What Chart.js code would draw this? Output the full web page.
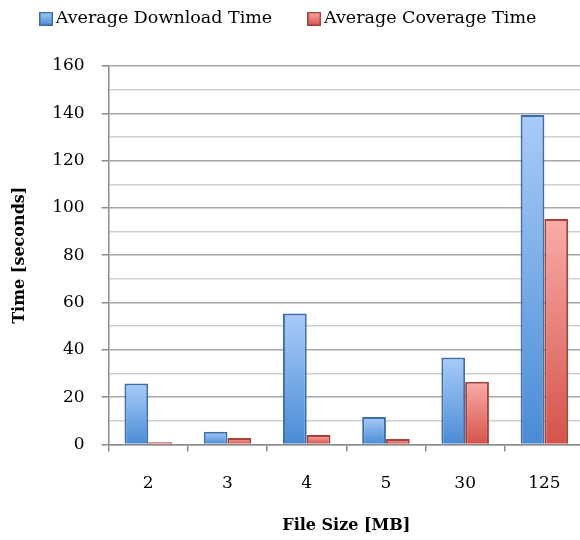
<!DOCTYPE html>
<html>
<head>
<meta charset="utf-8">
<script src="https://cdn.jsdelivr.net/npm/chart.js@4"></script>
<style>
  html, body { margin: 0; padding: 0; background: #ffffff; overflow: hidden; }
  #wrap { width: 584px; height: 540px; }
</style>
</head>
<body>
<div id="wrap"><canvas id="timeChart" width="584" height="540"></canvas></div>
<script>
// File sizes (MB) and measured times (seconds)
const fileSizes = ['2', '3', '4', '5', '30', '125'];
const downloadTimes = [25.7, 5.4, 55.3, 11.6, 36.7, 139.3];
const coverageTimes = [0.9, 2.7, 4.0, 2.3, 26.5, 95.3];

const FONT = "'DejaVu Serif', serif";

// vertical gradient from bar top down to the zero line
function barGradient(top, bottom) {
  return (ctx) => {
    const chart = ctx.chart;
    const area = chart.chartArea;
    if (!area) return bottom;
    const yScale = chart.scales.y;
    const value = ctx.parsed ? ctx.parsed.y : null;
    const y0 = yScale.getPixelForValue(0);
    const y1 = value == null ? area.top : yScale.getPixelForValue(value);
    if (y0 - y1 < 1) return bottom;
    const g = chart.ctx.createLinearGradient(0, y1, 0, y0);
    g.addColorStop(0, top);
    g.addColorStop(1, bottom);
    return g;
  };
}

// legend swatches get a small gradient of their own
function swatch(top, bottom, border) {
  const c = document.createElement('canvas');
  c.width = 14; c.height = 14;
  const x = c.getContext('2d');
  const g = x.createLinearGradient(0, 0, 0, 14);
  g.addColorStop(0, top);
  g.addColorStop(1, bottom);
  x.fillStyle = g;
  x.fillRect(0, 0, 14, 14);
  x.strokeStyle = border;
  x.lineWidth = 1.5;
  x.strokeRect(0.75, 0.75, 12.5, 12.5);
  return c;
}

const blueSwatch = swatch('#a9ccf8', '#4a8bd6', '#3d6ea6');
const redSwatch = swatch('#f9aca8', '#d4534a', '#a8403b');

// leave some room between the legend and the plot
const legendSpacer = {
  id: 'legendSpacer',
  beforeInit(chart) {
    const fit = chart.legend.fit;
    chart.legend.fit = function () {
      fit.call(this);
      this.height += 28.5;
    };
  }
};

new Chart(document.getElementById('timeChart'), {
  type: 'bar',
  data: {
    labels: fileSizes,
    datasets: [
      {
        label: 'Average Download Time',
        data: downloadTimes,
        backgroundColor: barGradient('#a9ccf8', '#4a8bd6'),
        borderColor: '#3d6ea6',
        borderWidth: 2,
        borderSkipped: 'bottom',
        categoryPercentage: 0.6,
        barPercentage: 1.0
      },
      {
        label: 'Average Coverage Time',
        data: coverageTimes,
        backgroundColor: barGradient('#f9aca8', '#d4534a'),
        borderColor: '#a8403b',
        borderWidth: 2,
        borderSkipped: 'bottom',
        categoryPercentage: 0.6,
        barPercentage: 1.0
      }
    ]
  },
  plugins: [legendSpacer],
  options: {
    responsive: false,
    animation: false,
    layout: { padding: { top: -31, left: 4, right: 0, bottom: 5 } },
    plugins: {
      tooltip: { enabled: false },
      legend: {
        position: 'top',
        align: 'start',
        labels: {
          color: '#000000',
          font: { family: FONT, size: 17.5 },
          usePointStyle: true,
          pointStyleWidth: 2,
          padding: 41,
          generateLabels: () => [
            { text: 'Average Download Time', pointStyle: blueSwatch, datasetIndex: 0, fontColor: '#000' },
            { text: 'Average Coverage Time', pointStyle: redSwatch, datasetIndex: 1, fontColor: '#000' }
          ]
        }
      }
    },
    scales: {
      x: {
        grid: {
          offset: true,
          drawOnChartArea: false,
          tickLength: 7,
          tickColor: '#8c8c8c',
          lineWidth: 1.5
        },
        border: { color: '#8c8c8c', width: 1.5 },
        ticks: {
          color: '#000000',
          font: { family: FONT, size: 17 },
          padding: 22
        },
        title: {
          display: true,
          text: 'File Size [MB]',
          color: '#000000',
          font: { family: FONT, size: 16, weight: 'bold' },
          padding: { top: 0, bottom: 0 }
        }
      },
      y: {
        min: 0,
        max: 160,
        ticks: {
          stepSize: 10,
          autoSkip: false,
          color: '#000000',
          font: { family: FONT, size: 17 },
          padding: 17,
          callback: (v) => (v % 20 === 0 ? String(v) : '')
        },
        grid: {
          color: (c) => (c.tick && c.tick.value % 20 === 0 ? '#a6a6a6' : '#cfcfcf'),
          tickColor: (c) => (c.tick && c.tick.value % 20 === 0 ? '#8c8c8c' : 'rgba(0,0,0,0)'),
          lineWidth: 1.5,
          tickLength: 7
        },
        border: { color: '#8c8c8c', width: 1.5 },
        title: {
          display: true,
          text: 'Time [seconds]',
          color: '#000000',
          font: { family: FONT, size: 16, weight: 'bold' },
          padding: { top: 6, bottom: 6 }
        }
      }
    }
  }
});
</script>
</body>
</html>
